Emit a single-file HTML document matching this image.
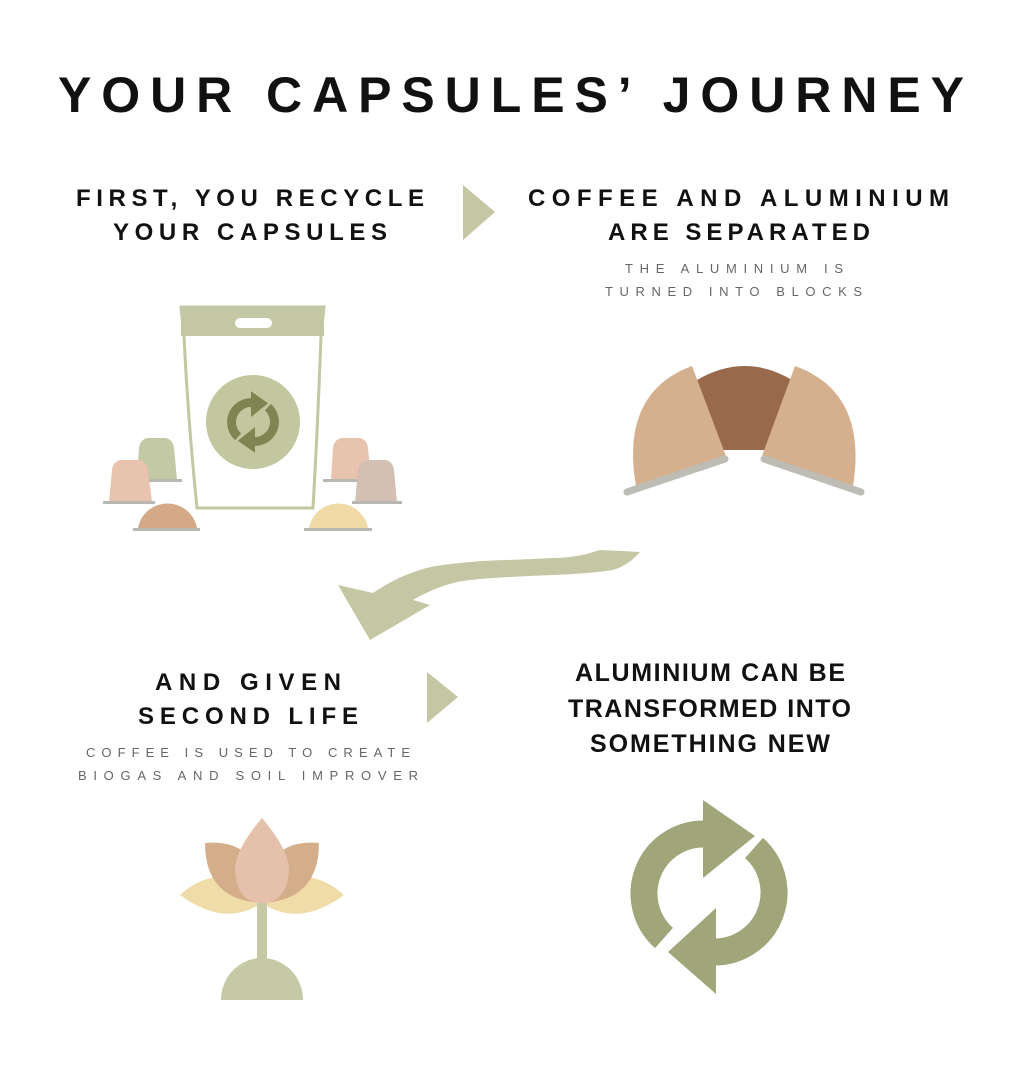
<!DOCTYPE html>
<html><head><meta charset="utf-8"><style>
html,body{margin:0;padding:0;background:#fff;}
svg{display:block}
.h{font-family:"Liberation Sans",sans-serif;font-weight:bold;fill:#111;}
.s{font-family:"Liberation Sans",sans-serif;fill:#666;font-size:13px;}
</style></head><body>
<svg width="1024" height="1081" viewBox="0 0 1024 1081" xmlns="http://www.w3.org/2000/svg">
<rect width="1024" height="1081" fill="#fff"/>
<text class="h" x="58" y="112" font-size="50" textLength="906" lengthAdjust="spacing">YOUR CAPSULES’ JOURNEY</text>

<text class="h" x="76" y="206" font-size="24" textLength="348" lengthAdjust="spacing">FIRST, YOU RECYCLE</text>
<text class="h" x="113" y="240" font-size="24" textLength="274" lengthAdjust="spacing">YOUR CAPSULES</text>
<polygon points="463,185 495,212 463,240" fill="#c5c6a3"/>

<text class="h" x="528" y="206" font-size="24" textLength="421" lengthAdjust="spacing">COFFEE AND ALUMINIUM</text>
<text class="h" x="608" y="240" font-size="24" textLength="262" lengthAdjust="spacing">ARE SEPARATED</text>
<text class="s" x="625" y="273" textLength="218" lengthAdjust="spacing">THE ALUMINIUM IS</text>
<text class="s" x="605" y="296" textLength="257" lengthAdjust="spacing">TURNED INTO BLOCKS</text>

<path d="M181,307 L324,307 L321,336 Q318,420 313,508 L197,508 Q188,420 184,336 Z" fill="#fff" stroke="#c3c7a3" stroke-width="3"/>
<rect x="181" y="306" width="143" height="30" fill="#c3c7a3"/>
<rect x="235" y="318" width="37" height="10" rx="5" fill="#fff"/>
<circle cx="253" cy="422" r="47" fill="#c3c7a0"/>
<g transform="translate(253,422) scale(0.33) translate(-709,-893)" fill="#7e8550">
  <path d="M664,938 A59.5,59.5 0 0 1 704,834" fill="none" stroke="#7e8550" stroke-width="27"/>
  <polygon points="703,800 755,836 703,878"/>
  <path d="M754,848 A59.5,59.5 0 0 1 714,952" fill="none" stroke="#7e8550" stroke-width="27"/>
  <polygon points="715,908 663,950 715,986"/>
</g>
<path d="M137,480 L139,448 Q140,440 147,438 L166,438 Q173,440 174,448 L177,480 Z" fill="#c3c9a5"/>
<rect x="125" y="479" width="57" height="3" fill="#b8b8b3"/>
<path d="M109,502 L112,470 Q113,462 120,460 L140,460 Q147,462 148,470 L152,502 Z" fill="#e8c3ad"/>
<rect x="103" y="501" width="52" height="3" fill="#b8b8b3"/>
<path d="M138,528 A30,30 0 0 1 197,528 Z" fill="#d4a987"/>
<rect x="133" y="528" width="67" height="3" fill="#b8b8b3"/>
<path d="M331,480 L333,448 Q334,440 341,438 L360,438 Q367,440 368,448 L371,480 Z" fill="#e8c3ad"/>
<rect x="323" y="479" width="49" height="3" fill="#b8b8b3"/>
<path d="M355,502 L358,470 Q359,462 366,460 L386,460 Q393,462 394,470 L397,502 Z" fill="#d4c0b3"/>
<rect x="352" y="501" width="50" height="3" fill="#b8b8b3"/>
<path d="M309,528 A30,30 0 0 1 368,528 Z" fill="#f0dba8"/>
<rect x="304" y="528" width="68" height="3" fill="#b8b8b3"/>

<path d="M697,380 Q745,352 792,380 L768,450 L723,450 Z" fill="#98694a"/>
<path d="M692,366 L726,456 L636,486 C626,430 640,385 692,366 Z" fill="#d5b08e"/>
<path d="M795,366 L762,456 L853,486 C862,430 848,385 795,366 Z" fill="#d5b08e"/>
<line x1="627" y1="492" x2="725" y2="459" stroke="#bdbcb5" stroke-width="7" stroke-linecap="round"/>
<line x1="764" y1="459" x2="861" y2="492" stroke="#bdbcb5" stroke-width="7" stroke-linecap="round"/>

<path d="M640,552 L600,550 C585,555 570,558 553,558 C520,560 490,560 470,562 C450,564 430,566 420,570 C400,576 385,585 373,593 L338,585 L370,640 L430,605 L413,600 C430,590 450,582 470,580 C500,577 530,576 553,575 C580,574 600,572 613,570 C625,566 633,560 640,552 Z" fill="#c5c6a3"/>

<text class="h" x="155" y="690" font-size="24" textLength="186" lengthAdjust="spacing">AND GIVEN</text>
<text class="h" x="138" y="724" font-size="24" textLength="220" lengthAdjust="spacing">SECOND LIFE</text>
<text class="s" x="86" y="757" textLength="324" lengthAdjust="spacing">COFFEE IS USED TO CREATE</text>
<text class="s" x="78" y="780" textLength="340" lengthAdjust="spacing">BIOGAS AND SOIL IMPROVER</text>
<polygon points="427,672 458,697 427,723" fill="#c5c6a3"/>

<text class="h" x="575" y="681" font-size="25" textLength="270" lengthAdjust="spacing">ALUMINIUM CAN BE</text>
<text class="h" x="568" y="717" font-size="25" textLength="283" lengthAdjust="spacing">TRANSFORMED INTO</text>
<text class="h" x="590" y="752" font-size="25" textLength="240" lengthAdjust="spacing">SOMETHING NEW</text>

<path d="M180,895 Q205,872 235,878 L262,903 Q225,928 180,895 Z" fill="#f0dca8"/>
<path d="M344,895 Q319,872 289,878 L262,903 Q299,928 344,895 Z" fill="#f0dca8"/>
<path d="M205,843 Q262,838 262,903 Q205,900 205,843 Z" fill="#d4ad8b"/>
<path d="M319,843 Q262,838 262,903 Q319,900 319,843 Z" fill="#d4ad8b"/>
<path d="M262,818 Q235,850 235,870 Q237,903 262,903 Q287,903 289,870 Q289,850 262,818 Z" fill="#e5c0aa"/>
<rect x="257" y="903" width="10" height="58" fill="#c5c9a5"/>
<path d="M221,1000 A41,42 0 0 1 303,1000 Z" fill="#c5c9a5"/>

<g fill="#a1a57a">
  <path d="M664,938 A59.5,59.5 0 0 1 704,834" fill="none" stroke="#a1a57a" stroke-width="27"/>
  <polygon points="703,800 755,836 703,878"/>
  <path d="M754,848 A59.5,59.5 0 0 1 714,952" fill="none" stroke="#a1a57a" stroke-width="27"/>
  <polygon points="716,908 668,952 716,994"/>
</g>
</svg>
</body></html>
